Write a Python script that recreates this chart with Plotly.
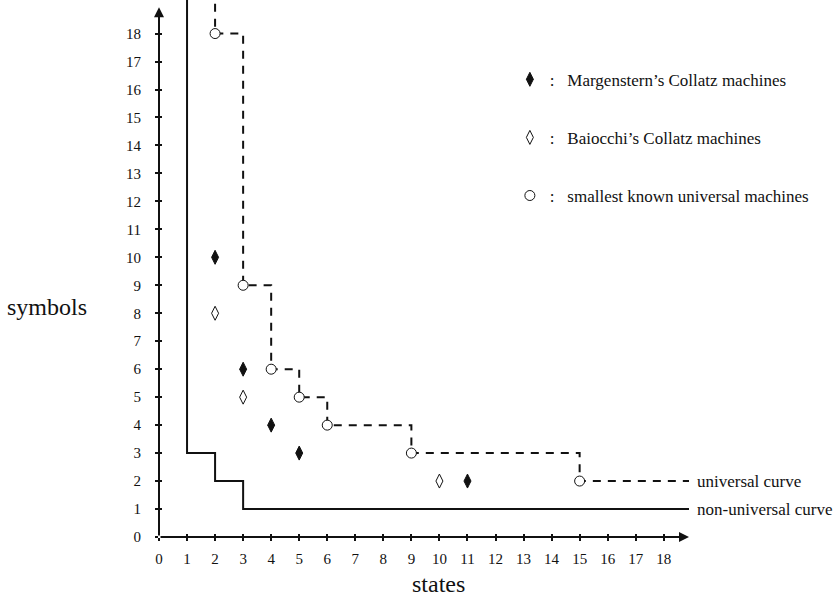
import plotly.graph_objects as go

# ---- data ----
margenstern_states = [2, 3, 4, 5, 11]
margenstern_symbols = [10, 6, 4, 3, 2]
baiocchi_states = [2, 3, 10]
baiocchi_symbols = [8, 5, 2]
universal_states = [2, 3, 4, 5, 6, 9, 15]
universal_symbols = [18, 9, 6, 5, 4, 3, 2]
nonuniversal_states = [1, 2, 3]
nonuniversal_symbols = [3, 2, 1]
tick_values = list(range(0, 19))

X_END = 18.9   # end of the x axis arrow
Y_TOP = 19.6   # curves run off the top of the chart
X_RANGE = [0, 18.9]
Y_RANGE = [0, 19.2]

FONT = "Liberation Serif, Times New Roman, serif"
BLACK = "#111111"

fig = go.Figure()

# universal curve (dashed step line)
fig.add_trace(go.Scatter(
    x=[universal_states[0]] + universal_states + [X_END],
    y=[Y_TOP] + universal_symbols + [universal_symbols[-1]],
    mode="lines", line=dict(color=BLACK, width=2, dash="8px,7px", shape="hv"),
    showlegend=False, hoverinfo="skip", cliponaxis=True))

# non-universal curve (solid step line) on overlay axes
fig.add_trace(go.Scatter(
    x=[nonuniversal_states[0]] + nonuniversal_states + [X_END],
    y=[Y_TOP] + nonuniversal_symbols + [nonuniversal_symbols[-1]],
    mode="lines", line=dict(color=BLACK, width=2, shape="hv"),
    xaxis="x2", yaxis="y2",
    showlegend=False, hoverinfo="skip"))

nb = "\u00a0"
fig.add_trace(go.Scatter(
    x=margenstern_states, y=margenstern_symbols, mode="markers",
    marker=dict(symbol="diamond-tall", size=10, color=BLACK,
                line=dict(color=BLACK, width=1)),
    name=":" + nb * 3 + "Margenstern\u2019s Collatz machines", legendgroup="a"))
fig.add_trace(go.Scatter(
    x=baiocchi_states, y=baiocchi_symbols, mode="markers",
    marker=dict(symbol="diamond-tall", size=10, color="white",
                line=dict(color=BLACK, width=1)),
    name=":" + nb * 3 + "Baiocchi\u2019s Collatz machines", legendgroup="b"))
fig.add_trace(go.Scatter(
    x=universal_states, y=universal_symbols, mode="markers",
    marker=dict(symbol="circle", size=10, color="white",
                line=dict(color=BLACK, width=1)),
    name=":" + nb * 3 + "smallest known universal machines", legendgroup="c"))

axis_common = dict(
    tickmode="array", tickvals=tick_values, ticktext=[str(v) for v in tick_values],
    ticklen=3, tickwidth=2, tickcolor=BLACK, showgrid=False, zeroline=False,
    showline=False)
tickfont = dict(family=FONT, size=15, color=BLACK)

fig.update_layout(
    width=838, height=600,
    margin=dict(l=159, r=149, t=0, b=63),
    paper_bgcolor="white", plot_bgcolor="white",
    font=dict(family=FONT, color=BLACK),
    xaxis=dict(range=X_RANGE, ticks="outside", ticklabelstandoff=5,
               tickfont=tickfont, **axis_common),
    yaxis=dict(range=Y_RANGE, ticks="outside", ticklabelstandoff=11,
               tickfont=tickfont, **axis_common),
    xaxis2=dict(range=X_RANGE, overlaying="x", anchor="y2", matches="x",
                ticks="inside", showticklabels=False, **axis_common),
    yaxis2=dict(range=Y_RANGE, overlaying="y", anchor="x2", matches="y",
                ticks="inside", showticklabels=False, **axis_common),
    legend=dict(x=0.662, y=0.885, xanchor="left", yanchor="top",
                font=dict(family=FONT, size=17, color=BLACK),
                tracegroupgap=33, bgcolor="rgba(0,0,0,0)", itemclick=False),
    showlegend=True,
)

# axis lines with arrows
fig.add_annotation(x=X_RANGE[1], y=0, ax=0, ay=0, xref="x", yref="y",
                   axref="x", ayref="y", text="", showarrow=True,
                   arrowhead=2, arrowsize=1, arrowwidth=2, arrowcolor=BLACK)
fig.add_annotation(x=0, y=18.94, ax=0, ay=0, xref="x", yref="y",
                   axref="x", ayref="y", text="", showarrow=True,
                   arrowhead=2, arrowsize=1, arrowwidth=2, arrowcolor=BLACK)

# curve labels
fig.add_annotation(x=X_END, y=universal_symbols[-1], xref="x", yref="y",
                   text="universal curve", showarrow=False, xanchor="left",
                   xshift=6, font=dict(family=FONT, size=17, color=BLACK))
fig.add_annotation(x=X_END, y=nonuniversal_symbols[-1], xref="x", yref="y",
                   text="non-universal curve", showarrow=False, xanchor="left",
                   xshift=6, font=dict(family=FONT, size=17, color=BLACK))

# axis titles
fig.add_annotation(x=-0.2906, y=0.428, xref="paper", yref="paper",
                   text="symbols", showarrow=False, xanchor="left", yanchor="middle",
                   font=dict(family=FONT, size=24, color=BLACK))
fig.add_annotation(x=0.527, y=-0.0875, xref="paper", yref="paper",
                   text="states", showarrow=False, xanchor="center", yanchor="middle",
                   font=dict(family=FONT, size=24, color=BLACK))

fig.write_html("out.html", config={"displayModeBar": False},
               post_script="document.body.style.margin='0';"
                           "document.body.style.padding='0';")
